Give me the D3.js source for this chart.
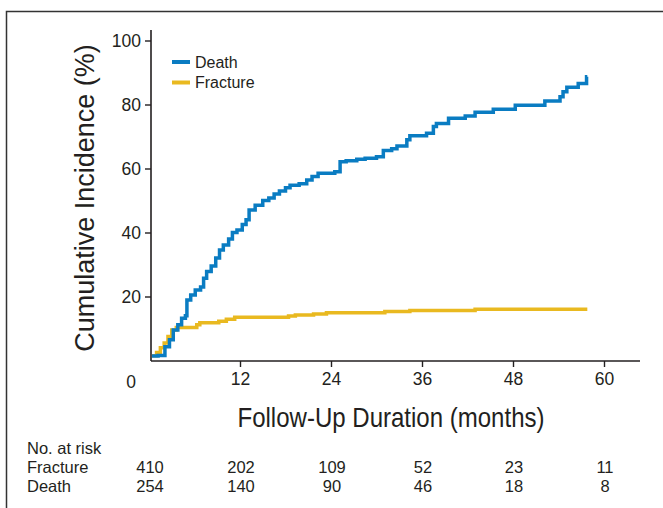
<!DOCTYPE html>
<html>
<head>
<meta charset="utf-8">
<script src="https://cdn.jsdelivr.net/npm/d3@7"></script>
<style>
  body { margin: 0; background: #fff; }
  svg text { font-family: "Liberation Sans Narrow", "Arial Narrow", "Liberation Sans", Arial, sans-serif; fill: #231f20; }
</style>
</head>
<body>
<div id="chart"></div>
<script>
// cumulative incidence (months, %)
var deathMonths = [0.4, 1.2, 2.1, 2.7, 3.2, 3.8, 4.3, 4.8, 5.0, 5.5, 6.1, 6.8, 7.2, 7.6, 8.2, 8.8, 9.3, 9.8, 10.5, 11.0,
    11.6, 12.3, 12.8, 13.2, 14.0, 15.0, 15.8, 16.5, 17.2, 18.0, 18.6, 19.8, 20.8, 21.5, 22.3, 24.5, 25.2, 26.0, 27.4, 28.5,
    30.0, 30.9, 32.0, 32.7, 34.0, 34.4, 36.6, 37.5, 37.9, 39.5, 41.7, 43.0, 45.4, 48.3, 52.2, 54.2, 54.6, 55.1, 56.6, 57.7];
var deathValues = [1.4, 1.6, 4.3, 6.5, 9.5, 11.2, 13.2, 14.0, 18.9, 20.5, 22.0, 23.0, 25.7, 27.8, 29.5, 32.0, 34.5, 36.1, 38.0, 40.0,
    40.8, 42.5, 44.0, 47.0, 48.5, 50.0, 50.8, 52.0, 53.0, 54.0, 54.8, 55.2, 56.4, 57.5, 58.5, 59.0, 62.1, 62.4, 62.9, 63.2,
    63.7, 65.6, 66.2, 67.0, 69.0, 70.2, 71.0, 73.1, 74.1, 75.7, 76.4, 77.6, 78.5, 79.8, 81.1, 82.4, 84.0, 85.4, 86.6, 88.7];

var fractureMonths = [0.4, 1.0, 1.5, 2.0, 2.5, 3.0, 3.6, 6.3, 6.7, 9.2, 10.2, 11.3, 18.4, 19.3, 21.7, 23.4, 31.1, 34.4, 43.0, 57.8];
var fractureValues = [1.5, 2.5, 4.0, 5.5, 7.5, 9.5, 10.3, 11.2, 11.8, 12.3, 12.9, 13.5, 13.9, 14.2, 14.5, 14.9, 15.3, 15.6, 16.0, 16.0];

var xTicks = [12, 24, 36, 48, 60];
var yTicks = [20, 40, 60, 80, 100];

var riskTimes = [0, 12, 24, 36, 48, 60];
var riskFracture = [410, 202, 109, 52, 23, 11];
var riskDeath = [254, 140, 90, 46, 18, 8];

var width = 663, height = 508;

var svg = d3.select("#chart").append("svg")
    .attr("width", width)
    .attr("height", height);

// outer frame (runs off the right and bottom edge)
svg.append("rect")
    .attr("x", 6.5).attr("y", 11.5)
    .attr("width", 700).attr("height", 600)
    .attr("fill", "none")
    .attr("stroke", "#333")
    .attr("stroke-width", 1.5);

var x = d3.scaleLinear().domain([0, 60]).range([149, 604]);
var y = d3.scaleLinear().domain([0, 100]).range([360.5, 40.5]);

var axisLeft = 151, axisBottom = 361;

// y axis
var yAxis = svg.append("g")
    .attr("transform", "translate(" + axisLeft + ",0)")
    .call(d3.axisLeft(y).tickValues(yTicks).tickSize(6).tickPadding(4));
yAxis.select(".domain").attr("d", "M0," + 30 + "V" + axisBottom);

// x axis
var xAxis = svg.append("g")
    .attr("transform", "translate(0," + axisBottom + ")")
    .call(d3.axisBottom(x).tickValues(xTicks).tickSize(6).tickPadding(6));
xAxis.select(".domain").attr("d", "M" + axisLeft + ",0H640");

svg.selectAll(".domain").attr("stroke", "#231f20").attr("stroke-width", 1.6);
svg.selectAll(".tick line").attr("stroke", "#231f20").attr("stroke-width", 1.4);
svg.selectAll(".tick text")
    .attr("font-size", 17.5)
    .style("font-family", "'Liberation Sans Narrow', 'Arial Narrow', Arial, sans-serif")
    .attr("fill", "#231f20");
yAxis.selectAll(".tick text").attr("dy", "0.35em");

svg.append("text")
    .attr("x", 131).attr("y", 388)
    .attr("text-anchor", "middle")
    .attr("font-size", 17.5)
    .text("0");

// axis titles
svg.append("text")
    .attr("transform", "translate(94,198) rotate(-90)")
    .attr("text-anchor", "middle")
    .attr("font-size", 27)
    .text("Cumulative Incidence (%)");

svg.append("text")
    .attr("transform", "translate(391,427) scale(0.89,1)")
    .attr("text-anchor", "middle")
    .attr("font-size", 27)
    .text("Follow-Up Duration (months)");

// curves
var line = d3.line()
    .x(function (d) { return x(d[0]); })
    .y(function (d) { return y(d[1]); })
    .curve(d3.curveStepAfter);

var fracturePts = d3.zip(fractureMonths, fractureValues);
var deathPts = d3.zip(deathMonths, deathValues);
deathPts.push([57.8, 88.7]);

svg.append("path")
    .datum(fracturePts)
    .attr("d", line)
    .attr("fill", "none")
    .attr("stroke", "#e9b920")
    .attr("stroke-width", 3.5);

svg.append("path")
    .datum(deathPts)
    .attr("d", line)
    .attr("fill", "none")
    .attr("stroke", "#0a7cc2")
    .attr("stroke-width", 3.5);

// legend
var legend = [
    { name: "Death", color: "#0a7cc2", y: 62 },
    { name: "Fracture", color: "#e9b920", y: 82.5 }
];
legend.forEach(function (l) {
    svg.append("line")
        .attr("x1", 172).attr("x2", 190)
        .attr("y1", l.y).attr("y2", l.y)
        .attr("stroke", l.color)
        .attr("stroke-width", 4);
    svg.append("text")
        .attr("x", 195).attr("y", l.y + 5.5)
        .attr("font-size", 16)
        .text(l.name);
});

// number at risk table
var rowFont = 16.5;
svg.append("text").attr("x", 27).attr("y", 454).attr("font-size", rowFont).text("No. at risk");
svg.append("text").attr("x", 27).attr("y", 473).attr("font-size", rowFont).text("Fracture");
svg.append("text").attr("x", 27).attr("y", 492).attr("font-size", rowFont).text("Death");

svg.selectAll(".riskF")
    .data(riskFracture)
    .enter().append("text")
    .attr("x", function (d, i) { return x(riskTimes[i]) + 1; })
    .attr("y", 473)
    .attr("text-anchor", "middle")
    .attr("font-size", rowFont)
    .text(function (d) { return d; });

svg.selectAll(".riskD")
    .data(riskDeath)
    .enter().append("text")
    .attr("x", function (d, i) { return x(riskTimes[i]) + 1; })
    .attr("y", 492)
    .attr("text-anchor", "middle")
    .attr("font-size", rowFont)
    .text(function (d) { return d; });
</script>
</body>
</html>
